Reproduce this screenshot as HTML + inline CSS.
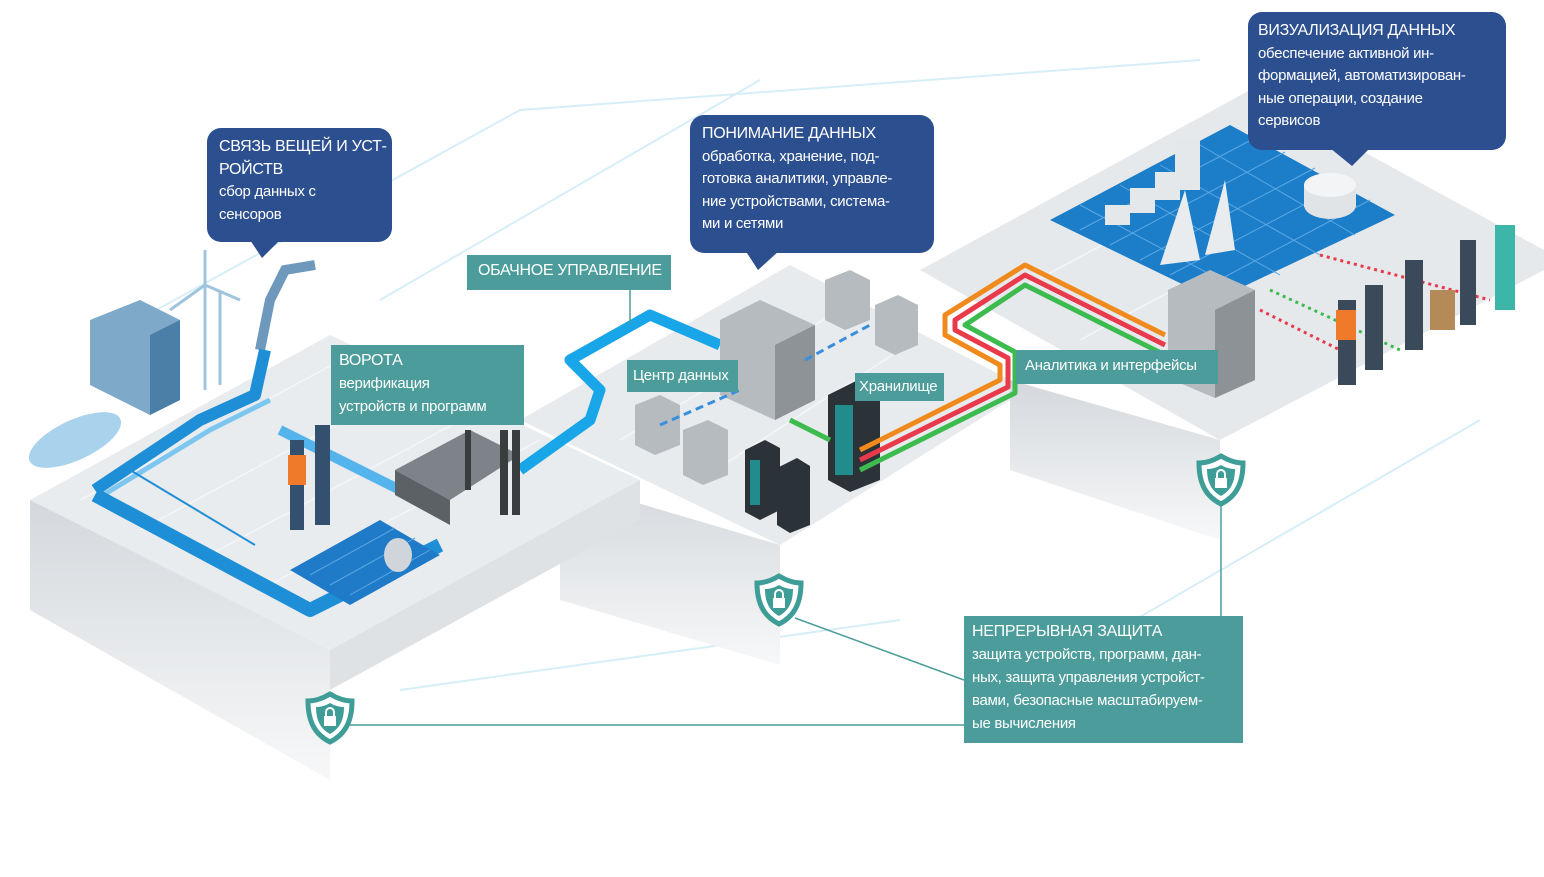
<!DOCTYPE html>
<html><head><meta charset="utf-8"><style>
html,body{margin:0;padding:0;background:#fff;}
body{width:1544px;height:877px;position:relative;overflow:hidden;font-family:"Liberation Sans","DejaVu Sans",sans-serif;}
.db{position:absolute;background:#2c4f8f;color:#fff;border-radius:14px;font-size:16px;line-height:22.5px;padding:8px 12px;box-sizing:border-box;white-space:nowrap;letter-spacing:-0.3px;}
.tl{position:absolute;background:#4b9c9a;color:#fff;font-size:16px;line-height:23px;padding:4px 8px;box-sizing:border-box;white-space:nowrap;letter-spacing:-0.3px;}
.sm{font-size:15px;}
</style></head><body>
<svg width="1544" height="877" style="position:absolute;left:0;top:0">
<defs>
<linearGradient id="side" x1="0" y1="0" x2="0" y2="1"><stop offset="0" stop-color="#d4d8dc"/><stop offset="1" stop-color="#f7f8f9"/></linearGradient>
<g id="sh">
<path d="M0 -24 C10 -18 18 -17 22 -17 C22 5 14 17 0 24 C-14 17 -22 5 -22 -17 C-18 -17 -10 -18 0 -24 Z" fill="#fff" stroke="#3f9d98" stroke-width="5"/>
<path d="M0 -15 C7 -11 12 -11 14 -11 C14 3 9 11 0 16 C-9 11 -14 3 -14 -11 C-12 -11 -7 -11 0 -15Z" fill="#3f9d98"/>
<rect x="-6" y="-2" width="12" height="10" fill="#fff"/><path d="M-4 -2 V-6 A4 4 0 0 1 4 -6 V-2" stroke="#fff" stroke-width="2" fill="none"/>
</g>
</defs>
<g stroke="#d6eef8" stroke-width="2" fill="none">
<path d="M120 330 L520 110 L1200 60"/><path d="M380 300 L760 80"/><path d="M1100 640 L1480 420"/><path d="M400 690 L900 620"/>
</g>
<polygon points="920,270 1250,90 1544,250 1544,270 1220,440" fill="#e6e9ec"/>
<polygon points="1010,380 1220,440 1220,540 1010,470" fill="url(#side)"/>
<polygon points="520,420 790,265 1010,380 1010,400 780,545" fill="#e8ebee"/>
<polygon points="560,480 780,545 780,665 560,600" fill="url(#side)"/>
<polygon points="30,500 330,335 640,480 330,650" fill="#e9ecef"/>
<polygon points="30,500 330,650 330,780 30,610" fill="url(#side)"/>
<polygon points="330,650 640,480 640,520 330,690" fill="#dfe2e5"/>
<g stroke="#f7f8f9" stroke-width="1.5" opacity=".8">
<path d="M80 500 L360 350 M140 530 L420 380 M200 560 L480 410 M260 590 L540 440"/>
<path d="M620 440 L840 310 M700 480 L900 350 M1000 300 L1260 160 M1080 340 L1340 200"/>
</g>
<polygon points="90,320 140,300 180,320 180,400 150,415 90,385" fill="#7fa9c9"/>
<polygon points="150,335 180,320 180,400 150,415" fill="#4c7fa8"/>
<ellipse cx="75" cy="440" rx="50" ry="20" fill="#a9d2ec" transform="rotate(-25 75 440)"/>
<g stroke="#9fc4de" stroke-width="3"><line x1="205" y1="250" x2="205" y2="390"/><line x1="220" y1="290" x2="220" y2="385"/><line x1="205" y1="285" x2="170" y2="310"/><line x1="205" y1="285" x2="240" y2="300"/></g>
<path d="M260 350 L270 300 L285 270 L315 265" stroke="#6f98bd" stroke-width="10" fill="none"/>
<g fill="none" stroke-linejoin="round">
<path d="M95 490 L200 420 L255 395 L265 350" stroke="#1e8fd6" stroke-width="12"/>
<path d="M95 500 L210 430 L270 400" stroke="#7cc6ef" stroke-width="5"/>
<path d="M95 495 L310 610 L440 545" stroke="#1e8fd6" stroke-width="14"/>
<path d="M280 430 L420 500" stroke="#52b4ea" stroke-width="10"/>
<path d="M520 470 L590 420 L600 390 L570 360 L650 315 L720 345" stroke="#18a6e8" stroke-width="11"/>
</g>
<line x1="130" y1="470" x2="255" y2="545" stroke="#1e8fd6" stroke-width="2"/>
<polygon points="290,570 380,520 440,555 350,605" fill="#1f7bc8"/>
<g stroke="#5aa7e0"><path d="M310 575 L395 528 M330 585 L415 538 M350 595 L430 550"/></g>
<ellipse cx="398" cy="555" rx="14" ry="17" fill="#cfd5da"/>
<g fill="#33506e"><rect x="290" y="440" width="14" height="90"/><rect x="315" y="425" width="15" height="100"/></g>
<rect x="288" y="455" width="18" height="30" fill="#ee7a2a"/>
<polygon points="395,470 470,430 520,455 450,500" fill="#7d8389"/>
<polygon points="395,470 450,500 450,525 395,495" fill="#5c6166"/>
<g fill="#3a3d40"><rect x="500" y="430" width="8" height="85"/><rect x="512" y="430" width="8" height="85"/><rect x="465" y="430" width="6" height="60"/></g>
<g>
<polygon points="720,320 760,300 815,325 815,400 775,420 720,395" fill="#b6bbc0"/>
<polygon points="775,345 815,325 815,400 775,420" fill="#8e9398"/>
<polygon points="825,280 850,270 870,280 870,320 845,330 825,320" fill="#b6bbc0"/>
<polygon points="875,305 898,295 918,305 918,345 895,355 875,345" fill="#b6bbc0"/>
<polygon points="635,405 660,395 680,405 680,445 655,455 635,445" fill="#b6bbc0"/>
<polygon points="683,430 708,420 728,430 728,475 703,485 683,475" fill="#b6bbc0"/>
<polygon points="828,395 858,380 880,392 880,480 850,492 828,480" fill="#2b3238"/>
<rect x="835" y="405" width="18" height="70" fill="#1fb0b0" opacity=".7"/>
<polygon points="745,450 765,440 780,448 780,510 760,520 745,512" fill="#2b3238"/>
<polygon points="777,468 797,458 810,466 810,525 790,533 777,525" fill="#2b3238"/>
<rect x="750" y="460" width="10" height="45" fill="#1fb0b0" opacity=".7"/>
</g>
<g stroke="#3a8fdc" stroke-width="3" stroke-dasharray="8,5" fill="none"><path d="M660 425 L740 390"/><path d="M805 360 L870 325"/></g>
<g fill="none" stroke-width="5" stroke-linejoin="round">
<path d="M860 450 L1000 380 L1000 365 L945 335 L945 315 L1025 265 L1165 335" stroke="#f08a1c"/>
<path d="M860 460 L1008 387 L1008 358 L955 330 L955 320 L1025 275 L1165 345" stroke="#e83a4a"/>
<path d="M860 470 L1015 393 L1015 352 L965 325 L1025 285 L1165 355" stroke="#3dbb4e"/>
<path d="M790 420 L830 440" stroke="#3dbb4e"/>
</g>
<polygon points="1050,220 1230,125 1395,215 1215,300" fill="#1c7dc9"/>
<g stroke="#5ca9e2" stroke-width="1"><path d="M1080 230 L1255 138 M1110 245 L1285 152 M1140 260 L1315 168 M1170 275 L1345 183 M1200 290 L1370 200"/><path d="M1080 205 L1245 293 M1120 185 L1280 275 M1160 165 L1320 255 M1200 145 L1355 235"/></g>
<ellipse cx="1330" cy="205" rx="26" ry="14" fill="#e0e4e7"/><rect x="1304" y="185" width="52" height="22" fill="#e0e4e7"/><ellipse cx="1330" cy="185" rx="26" ry="12" fill="#f2f4f5"/>
<g fill="#e5e8ea"><rect x="1105" y="205" width="25" height="20"/><rect x="1130" y="188" width="25" height="25"/><rect x="1155" y="172" width="25" height="28"/><rect x="1175" y="140" width="25" height="50"/></g>
<polygon points="1160,265 1185,190 1200,260" fill="#e8ecee"/><polygon points="1205,255 1225,180 1235,250" fill="#e8ecee"/>
<polygon points="1168,290 1210,270 1255,290 1255,380 1215,398 1168,378" fill="#b6bbc0"/>
<polygon points="1215,310 1255,290 1255,380 1215,398" fill="#8d9297"/>
<g stroke-dasharray="3,4" stroke-width="3" fill="none"><path d="M1260 310 L1340 350" stroke="#e83a4a"/><path d="M1270 290 L1400 350" stroke="#3dbb4e"/><path d="M1320 255 L1490 300" stroke="#e83a4a"/></g>
<g fill="#3a4a5a"><rect x="1338" y="300" width="18" height="85"/><rect x="1365" y="285" width="18" height="85"/><rect x="1405" y="260" width="18" height="90"/><rect x="1460" y="240" width="16" height="85"/><rect x="1495" y="225" width="20" height="85" fill="#3cb6a8"/></g>
<rect x="1336" y="310" width="20" height="30" fill="#ee7a2a"/>
<rect x="1430" y="290" width="25" height="40" fill="#b48a58"/>
<g stroke="#4b9c9a" stroke-width="1.5" fill="none"><path d="M350 725 L964 725"/><path d="M795 618 L964 680"/><path d="M1221 500 L1221 616"/><path d="M630 290 L630 325"/></g>
<use href="#sh" transform="translate(330,718)"/>
<use href="#sh" transform="translate(779,600)"/>
<use href="#sh" transform="translate(1221,480)"/>
<polygon points="250,240 280,240 262,258" fill="#2c4f8f"/>
<polygon points="745,250 780,250 758,270" fill="#2c4f8f"/>
<polygon points="1330,148 1370,148 1352,166" fill="#2c4f8f"/>
</svg>
<div class="db" style="left:207px;top:128px;width:185px;height:114px;">СВЯЗЬ ВЕЩЕЙ И УСТ-<br>РОЙСТВ<br><span class="sm">сбор данных с<br>сенсоров</span></div>
<div class="db" style="left:690px;top:115px;width:244px;height:138px;">ПОНИМАНИЕ ДАННЫХ<br><span class="sm">обработка, хранение, под-<br>готовка аналитики, управле-<br>ние устройствами, система-<br>ми и сетями</span></div>
<div class="db" style="left:1248px;top:12px;width:258px;height:138px;padding-left:10px;">ВИЗУАЛИЗАЦИЯ ДАННЫХ<br><span class="sm">обеспечение активной ин-<br>формацией, автоматизирован-<br>ные операции, создание<br>сервисов</span></div>
<div class="tl" style="left:467px;top:255px;width:204px;height:35px;padding-left:11px;">ОБАЧНОЕ УПРАВЛЕНИЕ</div>
<div class="tl" style="left:331px;top:345px;width:193px;height:80px;">ВОРОТА<br><span class="sm">верификация<br>устройств и программ</span></div>
<div class="tl sm" style="left:627px;top:360px;width:111px;height:32px;padding-left:6px;">Центр данных</div>
<div class="tl sm" style="left:855px;top:373px;width:89px;height:28px;padding:2px 4px;">Хранилище</div>
<div class="tl sm" style="left:1016px;top:350px;width:202px;height:34px;padding-left:9px;">Аналитика и интерфейсы</div>
<div class="tl" style="left:964px;top:616px;width:279px;height:127px;">НЕПРЕРЫВНАЯ ЗАЩИТА<br><span class="sm">защита устройств, программ, дан-<br>ных, защита управления устройст-<br>вами, безопасные масштабируем-<br>ые вычисления</span></div>
</body></html>
